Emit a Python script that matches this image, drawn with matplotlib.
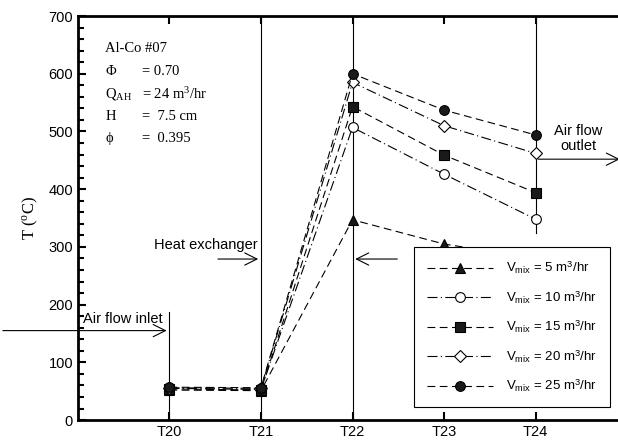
import matplotlib.pyplot as plt
import numpy as np
from matplotlib.ticker import MultipleLocator

plt.rcParams['mathtext.fontset'] = 'custom'
plt.rcParams['mathtext.rm'] = 'Liberation Serif'
plt.rcParams['mathtext.it'] = 'Liberation Serif:italic'
plt.rcParams['mathtext.sf'] = 'Liberation Sans'

# data
positions = ['T20', 'T21', 'T22', 'T23', 'T24']
v_mix = [5, 10, 15, 20, 25]
t_5 = [52, 51, 347, 305, 280]
t_10 = [55, 53, 507, 426, 348]
t_15 = [54, 52, 543, 459, 394]
t_20 = [56, 55, 585, 510, 462]
t_25 = [57, 56, 600, 537, 494]

series = [t_5, t_10, t_15, t_20, t_25]
markers = ['^', 'o', 's', 'D', 'o']
faces = ['#1a1a1a', 'white', '#1a1a1a', 'white', '#1a1a1a']
styles = [(0, (7, 4)), (0, (9, 3, 1, 3)), (0, (7, 4)), (0, (9, 3, 1, 3)), (0, (7, 4))]
msizes = [7, 7, 7, 6.5, 7]

fig = plt.figure(figsize=(6.18, 4.45), dpi=100)
ax = fig.add_axes([0.126, 0.056, 0.874, 0.908])

x = np.arange(1, len(positions) + 1)

# guide lines at thermocouple positions
ax.plot([1, 1], [0, 188], color='black', lw=0.8)
ax.plot([2, 2], [0, 700], color='black', lw=0.8)
ax.plot([3, 3], [0, 700], color='black', lw=0.8)
ax.plot([5, 5], [324, 700], color='black', lw=0.8)

for vals, v, m, fc, ls, ms in zip(series, v_mix, markers, faces, styles, msizes):
    ax.plot(x, vals, color='black', lw=0.8, linestyle=ls, marker=m,
            markersize=ms, markerfacecolor=fc, markeredgecolor='black',
            markeredgewidth=0.8,
            label=r'V$_{\mathsf{mix}}$ = %d m$^{\mathsf{3}}$/hr' % v)

arrow = dict(arrowstyle='->', color='black', lw=0.8, mutation_scale=22)
ax.annotate('', xy=(1, 155), xytext=(-0.85, 155), arrowprops=arrow,
            annotation_clip=False)
ax.text(0.06, 168, 'Air flow inlet', fontsize=10.5, family='Liberation Sans')
ax.annotate('', xy=(2, 279), xytext=(1.5, 279), arrowprops=arrow)
ax.text(1.4, 297, 'Heat exchanger', fontsize=10.5, family='Liberation Sans',
        ha='center')
ax.annotate('', xy=(3, 279), xytext=(3.52, 279), arrowprops=arrow)
ax.annotate('', xy=(5.95, 452), xytext=(5, 452), arrowprops=arrow,
            annotation_clip=False)
ax.text(5.47, 468, 'Air flow\noutlet', fontsize=10.5, family='Liberation Sans',
        ha='center', linespacing=1.1)

# parameter block
tx, ex = 0.3, 0.7
rows = [('Al-Co #07', ''), ('Φ', '= 0.70'),
        (r'Q$_{\rm AH}$', '= 24 m$^{3}$/hr'), ('H', '=  7.5 cm'),
        ('ϕ', '=  0.395')]
for i, (a, b) in enumerate(rows):
    yv = 643 - i * 39
    ax.text(tx, yv, a, fontsize=10.5, family='Liberation Serif', va='center')
    if b:
        ax.text(ex, yv, b, fontsize=10.5, family='Liberation Serif', va='center')

ax.set_xlim(0, 5.9)
ax.set_ylim(0, 700)
ax.set_xticks(x)
ax.set_xticklabels(positions)
ax.yaxis.set_major_locator(MultipleLocator(100))
ax.yaxis.set_minor_locator(MultipleLocator(20))
ax.tick_params(axis='both', which='both', direction='in', labelsize=10.5,
               width=1.5, top=True)
ax.tick_params(axis='both', which='major', length=6)
ax.tick_params(axis='both', which='minor', length=4)
for lab in ax.get_xticklabels() + ax.get_yticklabels():
    lab.set_family('Liberation Sans')
ax.spines['right'].set_visible(False)
for s in ['left', 'bottom', 'top']:
    ax.spines[s].set_linewidth(2)

ax.set_ylabel(r'T ($^{\rm o}$C)', fontsize=12, family='Liberation Serif',
              labelpad=6)

leg = ax.legend(loc='lower right', bbox_to_anchor=(0.998, 0.015, 0.0, 0.0),
                numpoints=1, handlelength=5.0, fancybox=False, edgecolor='black',
                framealpha=1, prop={'family': 'Liberation Sans', 'size': 9.5},
                labelspacing=1.0, borderpad=1.0, handletextpad=1.0)
leg.get_frame().set_linewidth(0.8)
leg.set_zorder(5)

fig.savefig('out.png', dpi=100)
